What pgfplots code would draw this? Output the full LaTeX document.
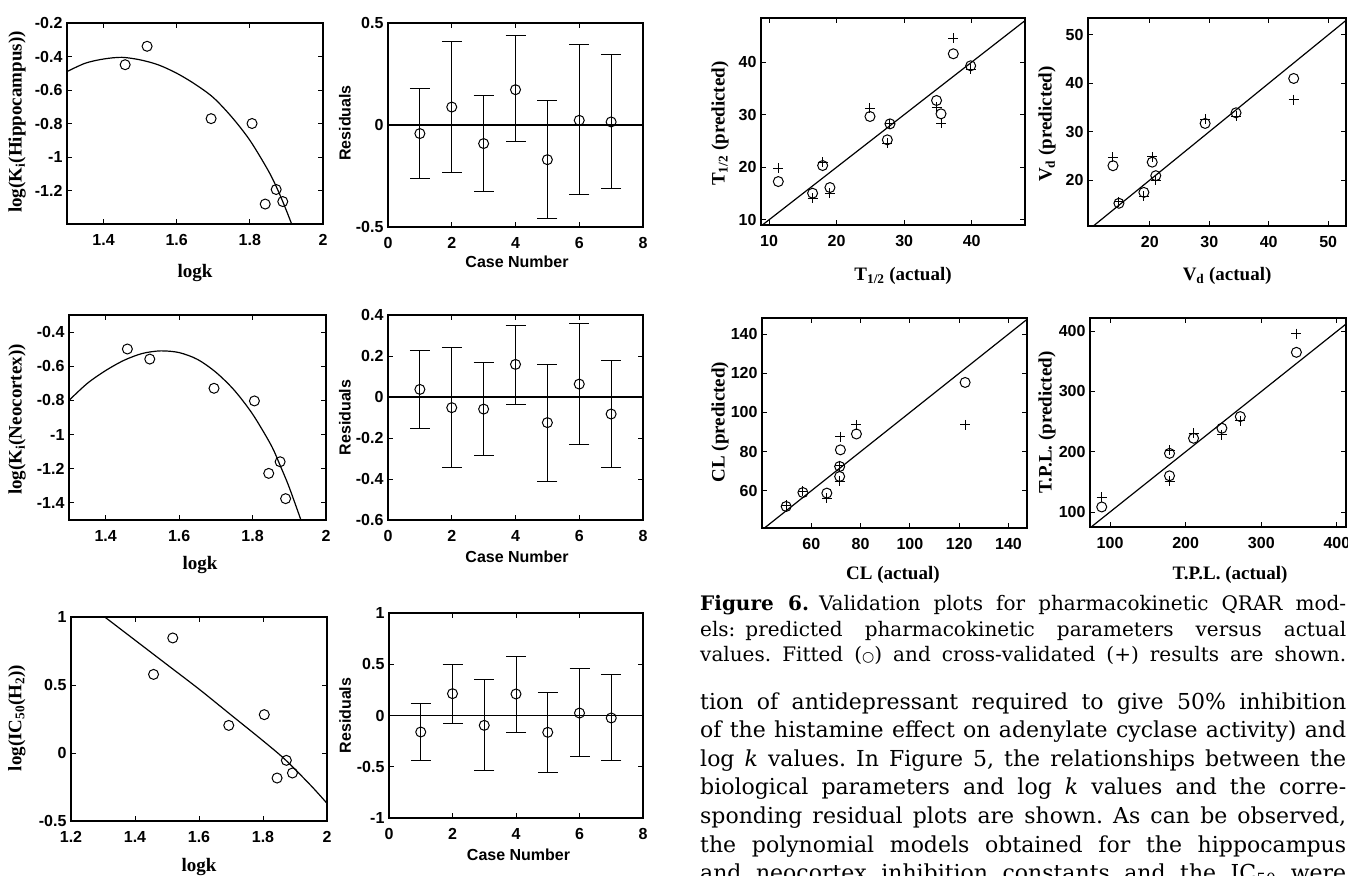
\documentclass[border=0pt]{standalone}
\usepackage{pgfplots}
\pgfplotsset{compat=1.18}
\usepackage{pgfplotstable}
\usepackage{graphicx}
\usepackage{fontspec}
\setmainfont{Liberation Serif}
\newfontfamily\arialf{Liberation Sans}
\newfontfamily\dejavu{DejaVu Sans}
\newfontfamily\textserif{DejaVu Serif}

\newcommand\tickfont{\arialf\bfseries\fontsize{16}{16}\selectfont}
\newcommand\sanslab{\arialf\bfseries\fontsize{16}{16}\selectfont}
\newcommand\serlab{\rmfamily\bfseries\fontsize{19}{19}\selectfont}
\newcommand\bodyf{\textserif\fontsize{22}{28}\selectfont}
\newcommand\capf{\textserif\fontsize{20}{25}\selectfont}

\newlength\natw
\newcommand\jline[1]{\settowidth\natw{#1}%
  \ifdim\natw>646pt
    \pgfmathsetmacro\jsc{646/\natw}\scalebox{\jsc}[1]{#1}%
  \else
    \makebox[646pt][s]{#1}%
  \fi}

\pgfplotsset{
  mlab/.style={scale only axis, anchor=north west,
    axis line style={line width=1.3pt},
    tick align=inside, major tick length=5pt,
    every tick/.style={black, line width=0.9pt},
    tick label style={font=\tickfont},
    xticklabel style={yshift=-7pt},
    yticklabel style={xshift=-1pt},
    /pgf/number format/assume math mode=true,
  },
  mcirc/.style={only marks, mark=o, mark size=5pt, mark options={line width=1pt, black}},
  mplus/.style={only marks, mark=+, mark size=5pt, mark options={line width=1pt, black}},
  mline/.style={black, line width=1.2pt, no markers},
  merr/.style={only marks, mark=o, mark size=5pt, black, mark options={line width=1pt, black},
    error bars/.cd, y dir=both, y explicit,
    error bar style={line width=1pt, black},
    error mark options={line width=1pt, black, mark size=10pt, rotate=90}},
}

% ---------- left column data ----------
\pgfplotstableread{
x y
1.459 -0.449
1.519 -0.339
1.694 -0.771
1.806 -0.800
1.842 -1.281
1.872 -1.194
1.890 -1.266
}\hipP
\pgfplotstableread{
x y
1.30 -0.49
1.35 -0.44
1.40 -0.415
1.45 -0.405
1.50 -0.42
1.55 -0.45
1.60 -0.50
1.65 -0.565
1.70 -0.645
1.75 -0.76
1.80 -0.90
1.85 -1.08
1.875 -1.19
1.90 -1.32
1.93 -1.49
}\hipC
\pgfplotstableread{
x y ep em
1 -0.042 0.220 0.218
2 0.088 0.322 0.323
3 -0.091 0.237 0.233
4 0.173 0.267 0.256
5 -0.170 0.291 0.289
6 0.023 0.371 0.363
7 0.015 0.330 0.327
}\resA
\pgfplotstableread{
x y
1.459 -0.499
1.520 -0.558
1.695 -0.729
1.805 -0.803
1.844 -1.227
1.875 -1.159
1.890 -1.375
}\neoP
\pgfplotstableread{
x y
1.30 -0.80
1.35 -0.70
1.40 -0.625
1.45 -0.565
1.50 -0.525
1.55 -0.51
1.60 -0.52
1.65 -0.56
1.70 -0.635
1.75 -0.74
1.80 -0.88
1.85 -1.06
1.875 -1.18
1.90 -1.31
1.935 -1.52
}\neoC
\pgfplotstableread{
x y ep em
1 0.037 0.189 0.190
2 -0.052 0.294 0.291
3 -0.059 0.226 0.224
4 0.159 0.192 0.195
5 -0.125 0.284 0.285
6 0.063 0.296 0.294
7 -0.083 0.263 0.260
}\resB
\pgfplotstableread{
x y
1.458 0.578
1.518 0.846
1.693 0.203
1.804 0.282
1.844 -0.184
1.873 -0.054
1.892 -0.147
}\icP
\pgfplotstableread{
x y
1.25 1.10
1.30 1.01
1.40 0.83
1.50 0.65
1.60 0.47
1.70 0.28
1.80 0.09
1.87 -0.05
1.95 -0.24
2.00 -0.37
}\icC
\pgfplotstableread{
x y ep em
1 -0.161 0.276 0.279
2 0.213 0.286 0.289
3 -0.096 0.446 0.442
4 0.210 0.367 0.371
5 -0.164 0.390 0.390
6 0.024 0.430 0.422
7 -0.024 0.422 0.416
}\resC

% ---------- right column data ----------
\pgfplotstableread{
x fit cv
11.36 17.27 19.80
16.44 15.05 14.10
17.93 20.32 20.95
19.01 16.13 15.05
24.94 29.65 31.24
27.51 25.21 24.57
27.90 28.25 28.25
34.80 32.70 31.43
35.46 30.16 28.38
37.28 41.59 44.57
39.85 39.30 38.67
}\thalf
\pgfplotstableread{
x fit cv
13.8 22.96 24.7
14.8 15.20 15.5
19.0 17.45 16.6
20.4 23.70 24.8
21.0 20.90 20.0
29.3 31.70 32.6
34.5 33.90 33.2
44.2 41.00 36.6
}\vd
\pgfplotstableread{
x fit cv
49.8 52.0 52.5
56.6 59.1 59.7
66.3 58.8 56.3
71.5 67.3 64.8
71.5 72.4 72.9
71.8 80.9 87.7
78.3 89.0 93.7
122.4 115.3 93.7
}\cl
\pgfplotstableread{
x fit cv
89.0 108.3 124.0
178.6 197.3 202.8
178.6 160.0 151.2
210.4 222.3 230.7
247.9 239.0 227.8
272.2 258.3 251.7
346.4 365.0 396.0
}\tpl
\pgfplotstableread{
x y
0 0
500 500
}\diag
\pgfplotstableread{
x y
0 0
8 0
}\zeroline

\begin{document}
\frenchspacing
\begin{tikzpicture}[x=1pt,y=-1pt]
\path[use as bounding box] (0,0) rectangle (1348,875);

% ===== P1 Hippocampus =====
\begin{axis}[mlab, at={(67pt,-23pt)}, width=256pt, height=201pt,
  xmin=1.3, xmax=2, ymin=-1.4, ymax=-0.2,
  xtick={1.4,1.6,1.8,2}, ytick={-1.2,-1,-0.8,-0.6,-0.4,-0.2},
  xlabel={\serlab logk}, ylabel={\serlab log(K\textsubscript{i}(Hippocampus))},
  xlabel style={at={(axis description cs:0.5,-0.244)}, anchor=center},
  ylabel style={at={(axis description cs:-0.195,0.507)}, anchor=center}]
\addplot[mline, smooth] table[x=x,y=y] {\hipC};
\addplot[mcirc] table[x=x,y=y] {\hipP};
\end{axis}

% ===== P2 residuals =====
\begin{axis}[mlab, at={(388pt,-23pt)}, width=255pt, height=204pt,
  xmin=0, xmax=8, ymin=-0.5, ymax=0.5,
  xtick={0,2,4,6,8}, ytick={-0.5,0,0.5},
  xlabel={\sanslab Case Number}, ylabel={\sanslab Residuals},
  xlabel style={at={(axis description cs:0.506,-0.172)}, anchor=center},
  ylabel style={at={(axis description cs:-0.169,0.51)}, anchor=center}]
\addplot[mline] table[x=x,y=y] {\zeroline};
\addplot[merr] table[x=x,y=y,y error plus=ep,y error minus=em] {\resA};
\end{axis}

% ===== P3 Neocortex =====
\begin{axis}[mlab, at={(69pt,-315pt)}, width=257pt, height=205pt,
  xmin=1.3, xmax=2, ymin=-1.5, ymax=-0.3,
  xtick={1.4,1.6,1.8,2}, ytick={-1.4,-1.2,-1,-0.8,-0.6,-0.4},
  xlabel={\serlab logk}, ylabel={\serlab log(K\textsubscript{i}(Neocortex))},
  xlabel style={at={(axis description cs:0.51,-0.22)}, anchor=center},
  ylabel style={at={(axis description cs:-0.202,0.49)}, anchor=center}]
\addplot[mline, smooth] table[x=x,y=y] {\neoC};
\addplot[mcirc] table[x=x,y=y] {\neoP};
\end{axis}

% ===== P4 residuals =====
\begin{axis}[mlab, at={(388pt,-315pt)}, width=255pt, height=205pt,
  xmin=0, xmax=8, ymin=-0.6, ymax=0.4,
  xtick={0,2,4,6,8}, ytick={-0.6,-0.4,-0.2,0,0.2,0.4},
  xlabel={\sanslab Case Number}, ylabel={\sanslab Residuals},
  xlabel style={at={(axis description cs:0.506,-0.18)}, anchor=center},
  ylabel style={at={(axis description cs:-0.169,0.5)}, anchor=center}]
\addplot[mline] table[x=x,y=y] {\zeroline};
\addplot[merr] table[x=x,y=y,y error plus=ep,y error minus=em] {\resB};
\end{axis}

% ===== P5 IC50 =====
\begin{axis}[mlab, at={(71pt,-617pt)}, width=256pt, height=204pt,
  xmin=1.2, xmax=2, ymin=-0.5, ymax=1,
  xtick={1.2,1.4,1.6,1.8,2}, ytick={-0.5,0,0.5,1},
  xlabel={\serlab logk}, ylabel={\serlab log(IC\textsubscript{50}(H\textsubscript{2}))},
  xlabel style={at={(axis description cs:0.5,-0.225)}, anchor=center},
  ylabel style={at={(axis description cs:-0.211,0.505)}, anchor=center}]
\addplot[mline, smooth] table[x=x,y=y] {\icC};
\addplot[mcirc] table[x=x,y=y] {\icP};
\end{axis}

% ===== P6 residuals =====
\begin{axis}[mlab, at={(389pt,-613pt)}, width=254pt, height=205pt,
  xmin=0, xmax=8, ymin=-1, ymax=1,
  xtick={0,2,4,6,8}, ytick={-1,-0.5,0,0.5,1},
  xlabel={\sanslab Case Number}, ylabel={\sanslab Residuals},
  xlabel style={at={(axis description cs:0.51,-0.18)}, anchor=center},
  ylabel style={at={(axis description cs:-0.173,0.5)}, anchor=center}]
\addplot[mline] table[x=x,y=y] {\zeroline};
\addplot[merr] table[x=x,y=y,y error plus=ep,y error minus=em] {\resC};
\end{axis}

% ===== P7 T1/2 =====
\begin{axis}[mlab, at={(761pt,-18pt)}, width=264pt, height=207pt,
  xmin=8.8, xmax=47.9, ymin=9, ymax=48.4,
  xtick={10,20,30,40}, ytick={10,20,30,40},
  xlabel={\serlab T\textsubscript{1/2} (actual)}, ylabel={\serlab T\textsubscript{1/2} (predicted)},
  xlabel style={at={(axis description cs:0.538,-0.246)}, anchor=center},
  ylabel style={at={(axis description cs:-0.155,0.49)}, anchor=center}]
\addplot[mline] table[x=x,y=y] {\diag};
\addplot[mcirc] table[x=x,y=fit] {\thalf};
\addplot[mplus] table[x=x,y=cv] {\thalf};
\end{axis}

% ===== P8 Vd =====
\begin{axis}[mlab, at={(1088pt,-18pt)}, width=258pt, height=208pt,
  xmin=9.6, xmax=53, ymin=10.5, ymax=53.5,
  xtick={20,30,40,50}, ytick={20,30,40,50},
  xlabel={\serlab V\textsubscript{d} (actual)}, ylabel={\serlab V\textsubscript{d} (predicted)},
  xlabel style={at={(axis description cs:0.539,-0.24)}, anchor=center},
  ylabel style={at={(axis description cs:-0.159,0.49)}, anchor=center}]
\addplot[mline] table[x=x,y=y] {\diag};
\addplot[mcirc] table[x=x,y=fit] {\vd};
\addplot[mplus] table[x=x,y=cv] {\vd};
\end{axis}

% ===== P9 CL =====
\begin{axis}[mlab, at={(762pt,-318pt)}, width=265pt, height=210pt,
  xmin=40, xmax=147.5, ymin=41, ymax=148.2,
  xtick={60,80,100,120,140}, ytick={60,80,100,120,140},
  xlabel={\serlab CL (actual)}, ylabel={\serlab CL (predicted)},
  xlabel style={at={(axis description cs:0.494,-0.224)}, anchor=center},
  ylabel style={at={(axis description cs:-0.158,0.505)}, anchor=center}]
\addplot[mline] table[x=x,y=y] {\diag};
\addplot[mcirc] table[x=x,y=fit] {\cl};
\addplot[mplus] table[x=x,y=cv] {\cl};
\end{axis}

% ===== P10 TPL =====
\begin{axis}[mlab, at={(1090pt,-318pt)}, width=256pt, height=209pt,
  xmin=73.5, xmax=412, ymin=75, ymax=422,
  xtick={100,200,300,400}, ytick={100,200,300,400},
  xlabel={\serlab T.P.L. (actual)}, ylabel={\serlab T.P.L. (predicted)},
  xlabel style={at={(axis description cs:0.547,-0.23)}, anchor=center},
  ylabel style={at={(axis description cs:-0.168,0.5)}, anchor=center}]
\addplot[mline] table[x=x,y=y] {\diag};
\addplot[mcirc] table[x=x,y=fit] {\tpl};
\addplot[mplus] table[x=x,y=cv] {\tpl};
\end{axis}

% ===== caption and body text =====
\node[anchor=base west, inner sep=0] at (700,610) {\capf\jline{\textbf{Figure 6.}\enspace Validation plots for pharmacokinetic QRAR mod-}};
\node[anchor=base west, inner sep=0] at (700,636) {\capf\jline{els:\enspace predicted pharmacokinetic parameters versus actual}};
\node[anchor=base west, inner sep=0] at (700,661) {\capf\jline{values. Fitted ({\dejavu\fontsize{14}{14}\selectfont ○}) and cross-validated (+) results are shown.}};

\node[anchor=base west, inner sep=0] at (700,709) {\bodyf\jline{tion of antidepressant required to give 50\% inhibition}};
\node[anchor=base west, inner sep=0] at (700,737.6) {\bodyf\jline{of the histamine effect on adenylate cyclase activity) and}};
\node[anchor=base west, inner sep=0] at (700,766.2) {\bodyf\jline{log \textit{k} values. In Figure 5, the relationships between the}};
\node[anchor=base west, inner sep=0] at (700,794.8) {\bodyf\jline{biological parameters and log \textit{k} values and the corre-}};
\node[anchor=base west, inner sep=0] at (700,823.4) {\bodyf\jline{sponding residual plots are shown. As can be observed,}};
\node[anchor=base west, inner sep=0] at (700,852) {\bodyf\jline{the polynomial models obtained for the hippocampus}};
\node[anchor=base west, inner sep=0] at (700,880.6) {\bodyf\jline{and neocortex inhibition constants and the IC\textsubscript{50} were}};
\end{tikzpicture}
\end{document}
